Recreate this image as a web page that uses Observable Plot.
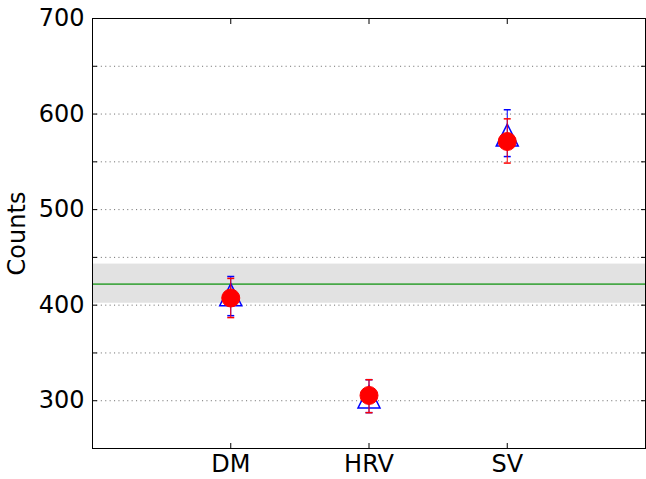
<!DOCTYPE html>
<html><head><meta charset="utf-8">
<script src="https://cdn.jsdelivr.net/npm/d3@7"></script>
<script src="https://cdn.jsdelivr.net/npm/@observablehq/plot@0.6"></script>
<style>
html,body{margin:0;padding:0;background:#fff}
</style>
</head><body><div id="chart"></div>
<script>
// ---- data ----
const categories = ["DM", "HRV", "SV"];
const catPos = [0, 1, 2];
// blue open triangles with error bars
const triMean = [411, 304, 578];
const triLow  = [389, 287.5, 555.5];
const triHigh = [430, 322, 604.5];
// red filled circles with error bars
const dotMean = [407.5, 305.5, 571.3];
const dotLow  = [387, 287.5, 548.7];
const dotHigh = [428, 322, 595];
// reference line and band
const refMean = [422];
const refLow  = [402];
const refHigh = [443];
// axes
const xDomain = [-1, 3];
const yDomain = [250, 700];
const yLabelTicks = [300, 400, 500, 600, 700];
const yAllTicks = [250, 300, 350, 400, 450, 500, 550, 600, 650, 700];
const yGridTicks = [300, 350, 400, 450, 500, 550, 600, 650];

// custom symbols
const mplTriangle = {draw(ctx, size) {
  const r = Math.sqrt(size / Math.PI);
  ctx.moveTo(0, -r); ctx.lineTo(r, r); ctx.lineTo(-r, r); ctx.closePath();
}};
const hCap = {draw(ctx, size) {
  const r = Math.sqrt(size / Math.PI);
  ctx.moveTo(-r, 0); ctx.lineTo(r, 0);
}};

const FS = 24;
const band = refLow.map((lo, i) => ({lo, hi: refHigh[i]}));

const chart = Plot.plot({
  width: 646,
  height: 479,
  marginLeft: 92,
  marginRight: 1,
  marginTop: 18,
  marginBottom: 31,
  style: {fontFamily: "'DejaVu Sans', sans-serif", fontSize: FS + "px", color: "black", background: "white", overflow: "visible"},
  x: {domain: xDomain, label: null},
  y: {domain: yDomain, label: null},
  marks: [
    Plot.rect(band, {x1: () => xDomain[0], x2: () => xDomain[1], y1: "lo", y2: "hi", fill: "#e2e2e2"}),
    Plot.ruleY(yGridTicks, {stroke: "#000", strokeOpacity: 0.55, strokeWidth: 1, strokeDasharray: "1.1,3.3"}),
    Plot.ruleY(refMean, {stroke: "#48a848", strokeWidth: 1.6}),
    // blue series
    Plot.ruleX(catPos, {x: catPos, y1: triLow, y2: triHigh, stroke: "blue", strokeWidth: 1}),
    Plot.dot(catPos, {x: catPos, y: triLow, symbol: hCap, r: 3.5, stroke: "blue", strokeWidth: 1.5}),
    Plot.dot(catPos, {x: catPos, y: triHigh, symbol: hCap, r: 3.5, stroke: "blue", strokeWidth: 1.5}),
    Plot.dot(catPos, {x: catPos, y: triMean, symbol: mplTriangle, r: 11, stroke: "blue", fill: "none", strokeWidth: 1.5}),
    // red series
    Plot.ruleX(catPos, {x: catPos, y1: dotLow, y2: dotHigh, stroke: "red", strokeWidth: 1}),
    Plot.dot(catPos, {x: catPos, y: dotLow, symbol: hCap, r: 3.5, stroke: "red", strokeWidth: 1.5}),
    Plot.dot(catPos, {x: catPos, y: dotHigh, symbol: hCap, r: 3.5, stroke: "red", strokeWidth: 1.5}),
    Plot.dot(catPos, {x: catPos, y: dotMean, symbol: "circle", r: 9, fill: "red", stroke: "red", strokeWidth: 1}),
    // axes: inward ticks
    Plot.axisY({ticks: yAllTicks, anchor: "left", tickSize: -5, fill: "none", label: null, stroke: "black"}),
    Plot.axisY({ticks: yAllTicks, anchor: "right", tickSize: -5, fill: "none", label: null, stroke: "black"}),
    Plot.axisX({ticks: catPos, anchor: "bottom", tickSize: -5, fill: "none", label: null, stroke: "black"}),
    Plot.axisX({ticks: catPos, anchor: "top", tickSize: -5, fill: "none", label: null, stroke: "black"}),
    // axes: labels
    Plot.axisY({ticks: yLabelTicks, anchor: "left", tickSize: 0, tickPadding: 8, fontSize: FS,
      label: "Counts", labelAnchor: "center", labelArrow: "none", labelOffset: 85, fill: "black"}),
    Plot.axisX({ticks: catPos, anchor: "bottom", tickSize: 0, tickPadding: 6, fontSize: FS,
      tickFormat: i => categories[i], label: null, fill: "black"}),
    Plot.frame({stroke: "black", strokeWidth: 1})
  ]
});
document.getElementById("chart").appendChild(chart);
</script>
</body></html>
